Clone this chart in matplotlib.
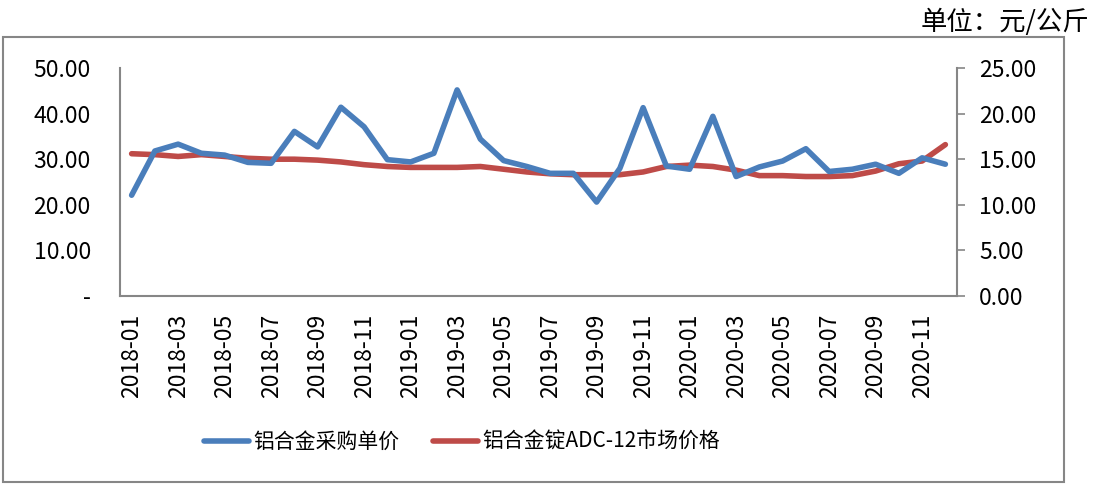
import matplotlib.pyplot as plt
from matplotlib.patches import Rectangle

plt.rcParams['font.family'] = ['Noto Sans CJK SC', 'DejaVu Sans']

# =========================
# DATA
# =========================
months = [f"{y}-{m:02d}" for y in (2018, 2019, 2020) for m in range(1, 13)]

# 铝合金采购单价 (left axis)
purchase = [22.1, 31.8, 33.3, 31.3, 30.9, 29.3, 29.1, 36.1, 32.7, 41.4, 37.1, 29.9,
            29.4, 31.3, 45.2, 34.4, 29.7, 28.4, 26.9, 26.9, 20.6, 28.0, 41.3, 28.5,
            27.8, 39.4, 26.2, 28.3, 29.6, 32.3, 27.3, 27.8, 28.9, 26.9, 30.3, 28.9]

# 铝合金锭ADC-12市场价格 (right axis)
market = [15.6, 15.5, 15.3, 15.5, 15.3, 15.1, 15.0, 15.0, 14.9, 14.7, 14.4, 14.2,
          14.1, 14.1, 14.1, 14.2, 13.9, 13.6, 13.4, 13.3, 13.3, 13.3, 13.6, 14.2,
          14.35, 14.2, 13.8, 13.2, 13.2, 13.1, 13.1, 13.2, 13.7, 14.5, 14.8, 16.6]

label_blue = "铝合金采购单价"
label_red = "铝合金锭ADC-12市场价格"
unit_text = "单位：元/公斤"

blue = "#4a7ebb"
red = "#be4b48"
axis_gray = "#868686"

# =========================
# FIGURE
# =========================
fig = plt.figure(figsize=(10.97, 4.86), dpi=100)
ax = fig.add_axes([120 / 1097, 190 / 486, 837 / 1097, 228 / 486])
ax2 = ax.twinx()

x = list(range(len(months)))
l1, = ax.plot(x, purchase, color=blue, lw=4, solid_capstyle='round', solid_joinstyle='round', zorder=3)
l2, = ax2.plot(x, market, color=red, lw=4, solid_capstyle='round', solid_joinstyle='round')
ax.set_zorder(ax2.get_zorder() + 1)
ax.patch.set_visible(False)

ax.set_xlim(-0.5, len(months) - 0.5)
ax.set_ylim(0, 50)
ax2.set_ylim(0, 25)

ax.set_yticks([0, 10, 20, 30, 40, 50])
ax.set_yticklabels(["-", "10.00", "20.00", "30.00", "40.00", "50.00"])
ax2.set_yticks([0, 5, 10, 15, 20, 25])
ax2.set_yticklabels([f"{v:.2f}" for v in [0, 5, 10, 15, 20, 25]])

ax.set_xticks(x[::2])
ax.set_xticklabels(months[::2], rotation=90)
ax.tick_params(axis='x', length=0, pad=13, labelsize=16.5)
ax.tick_params(axis='y', length=0, pad=21, labelsize=16.5)
ax2.tick_params(axis='y', length=6, color=axis_gray, width=1.2, pad=10, labelsize=16.5)

for a in (ax, ax2):
    for s in a.spines.values():
        s.set_visible(False)
ax.spines['left'].set_visible(True)
ax.spines['bottom'].set_visible(True)
ax2.spines['right'].set_visible(True)
for s in (ax.spines['left'], ax.spines['bottom'], ax2.spines['right']):
    s.set_color(axis_gray)
    s.set_linewidth(1.5)

# outer frame
fig.patches.append(Rectangle((3 / 1097, 4 / 486), 1061 / 1097, 445 / 486,
                             transform=fig.transFigure, fill=False,
                             edgecolor=axis_gray, lw=1.5))

fig.text(1089 / 1097, 1 - 22 / 486, unit_text, ha='right', va='center', fontsize=19)

fig.legend([l1, l2], [label_blue, label_red], loc='center', ncol=2,
           bbox_to_anchor=(462 / 1097, 1 - 442 / 486), frameon=False,
           fontsize=15, handlelength=2.15, columnspacing=1.6, handletextpad=0.2)

fig.savefig("out.png", dpi=100)
